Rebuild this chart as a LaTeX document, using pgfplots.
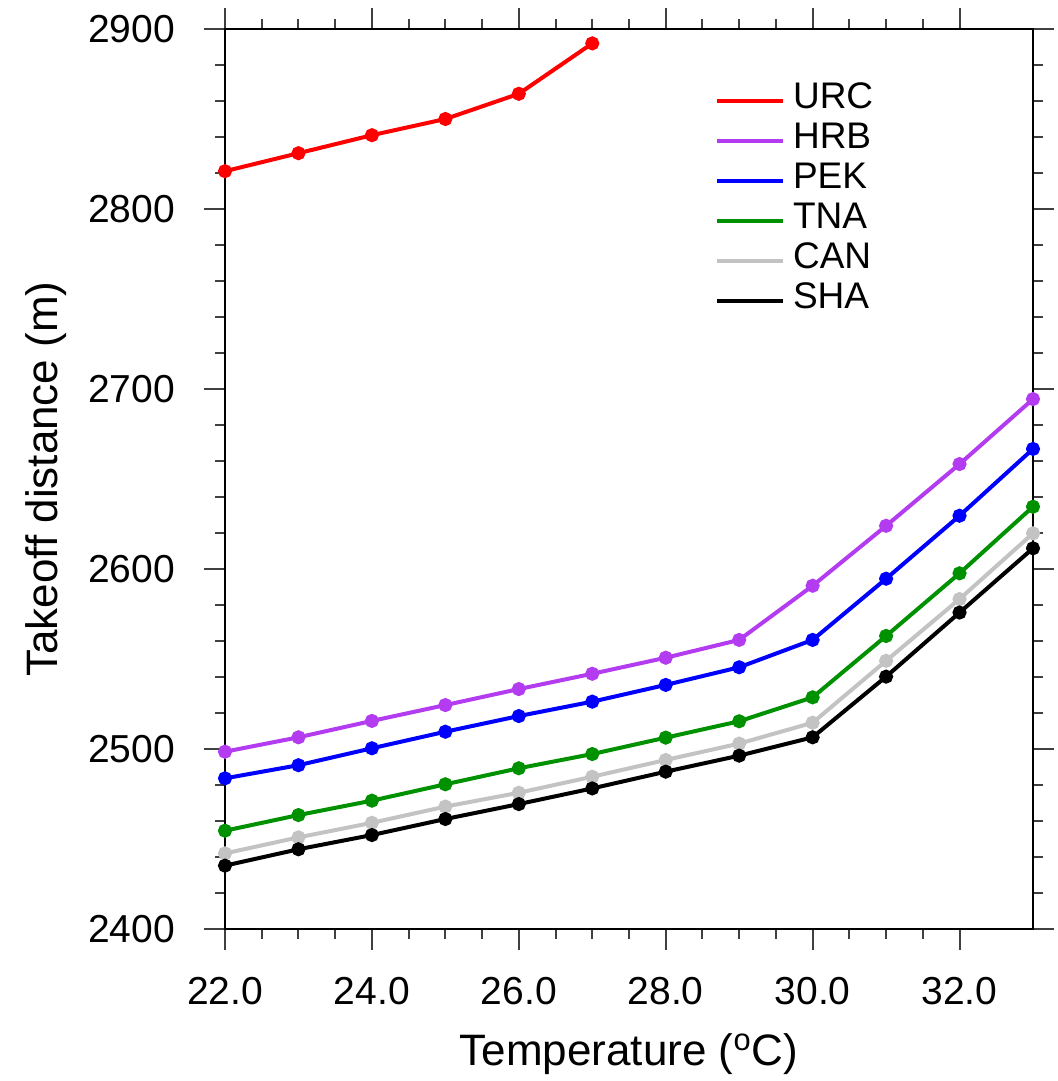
\documentclass[border=0pt]{standalone}
\usepackage{fontspec}
\setmainfont{Liberation Sans}
\usepackage{pgfplots}
\pgfplotsset{compat=1.18}

\definecolor{cURC}{RGB}{255,0,0}
\definecolor{cHRB}{RGB}{180,60,240}
\definecolor{cPEK}{RGB}{0,0,255}
\definecolor{cTNA}{RGB}{0,145,0}
\definecolor{cCAN}{RGB}{195,195,195}
\definecolor{cSHA}{RGB}{0,0,0}

\begin{document}
\begin{tikzpicture}
\begin{axis}[
  name=ax,
  scale only axis,
  width=404pt, height=450pt,
  xmin=22, xmax=33, ymin=2400, ymax=2900,
  xtick={22,24,...,32}, ytick={2400,2500,...,2900},
  minor x tick num=3, minor y tick num=4,
  tick style={line width=1pt, black!75},
  tick align=outside,
  major tick length=10.5pt, minor tick length=5pt,
  axis line style={line width=1.1pt},
  /pgf/number format/assume math mode=true,
  xticklabel style={/pgf/number format/.cd, fixed, fixed zerofill, precision=1},
  yticklabel style={/pgf/number format/.cd, 1000 sep={}},
  tick label style={font=\fontsize{19.5}{21}\selectfont},
  xticklabel shift=10pt, yticklabel shift=11pt,
  xlabel={Temperature (\textsuperscript{o}C)},
  ylabel={Takeoff distance (m)},
  every axis x label/.style={at={(axis description cs:0.5,-0.139)}, anchor=center,
    font=\fontsize{22}{24}\selectfont},
  every axis y label/.style={at={(axis description cs:-0.222,0.5)}, anchor=center, rotate=90,
    font=\fontsize{22}{24}\selectfont},
  legend style={at={(rel axis cs:0.606,0.943)}, anchor=north west, draw=none, fill=none,
    inner sep=0pt, font=\fontsize{18.5}{20}\selectfont,
    nodes={inner sep=0pt, text height=14pt, text depth=6pt},
    /tikz/every odd column/.style={column sep=4pt}},
  legend cell align=left,
  legend image code/.code={\draw[#1, mark=none] (0pt,0pt) -- (33pt,0pt);},
  every axis plot/.append style={line width=2pt, mark=*, mark size=2.5pt},
]
\addplot[cURC, mark options={fill=cURC}] coordinates {
  (22,2821) (23,2831) (24,2841) (25,2850) (26,2864) (27,2892)};
\addlegendentry{URC}
\addplot[cHRB, mark options={fill=cHRB}] coordinates {
  (22,2498.5) (23,2506.5) (24,2515.6) (25,2524.4) (26,2533.3) (27,2541.8)
  (28,2550.7) (29,2560.6) (30,2590.7) (31,2624) (32,2658.3) (33,2694.4)};
\addlegendentry{HRB}
\addplot[cPEK, mark options={fill=cPEK}] coordinates {
  (22,2483.7) (23,2491) (24,2500.4) (25,2509.6) (26,2518.3) (27,2526.3)
  (28,2535.6) (29,2545.4) (30,2560.6) (31,2594.6) (32,2629.6) (33,2666.7)};
\addlegendentry{PEK}
\addplot[cTNA, mark options={fill=cTNA}] coordinates {
  (22,2454.6) (23,2463.3) (24,2471.3) (25,2480.4) (26,2489.3) (27,2497.2)
  (28,2506.3) (29,2515.4) (30,2528.7) (31,2562.8) (32,2597.6) (33,2634.6)};
\addlegendentry{TNA}
\addplot[cCAN, mark options={fill=cCAN}] coordinates {
  (22,2442) (23,2450.9) (24,2459) (25,2468) (26,2475.7) (27,2484.6)
  (28,2493.9) (29,2503) (30,2514.6) (31,2549) (32,2583.3) (33,2619.8)};
\addlegendentry{CAN}
\addplot[cSHA, mark options={fill=cSHA}] coordinates {
  (22,2435.2) (23,2444.3) (24,2452.2) (25,2461.1) (26,2469.4) (27,2478.1)
  (28,2487.4) (29,2496.3) (30,2506.5) (31,2540.2) (32,2575.8) (33,2611.5)};
\addlegendentry{SHA}
\end{axis}
\pgfresetboundingbox
\path[use as bounding box] ([shift={(-112.5pt,-76pt)}]ax.south west) rectangle ([shift={(12.5pt,14.5pt)}]ax.north east);
\end{tikzpicture}
\end{document}
